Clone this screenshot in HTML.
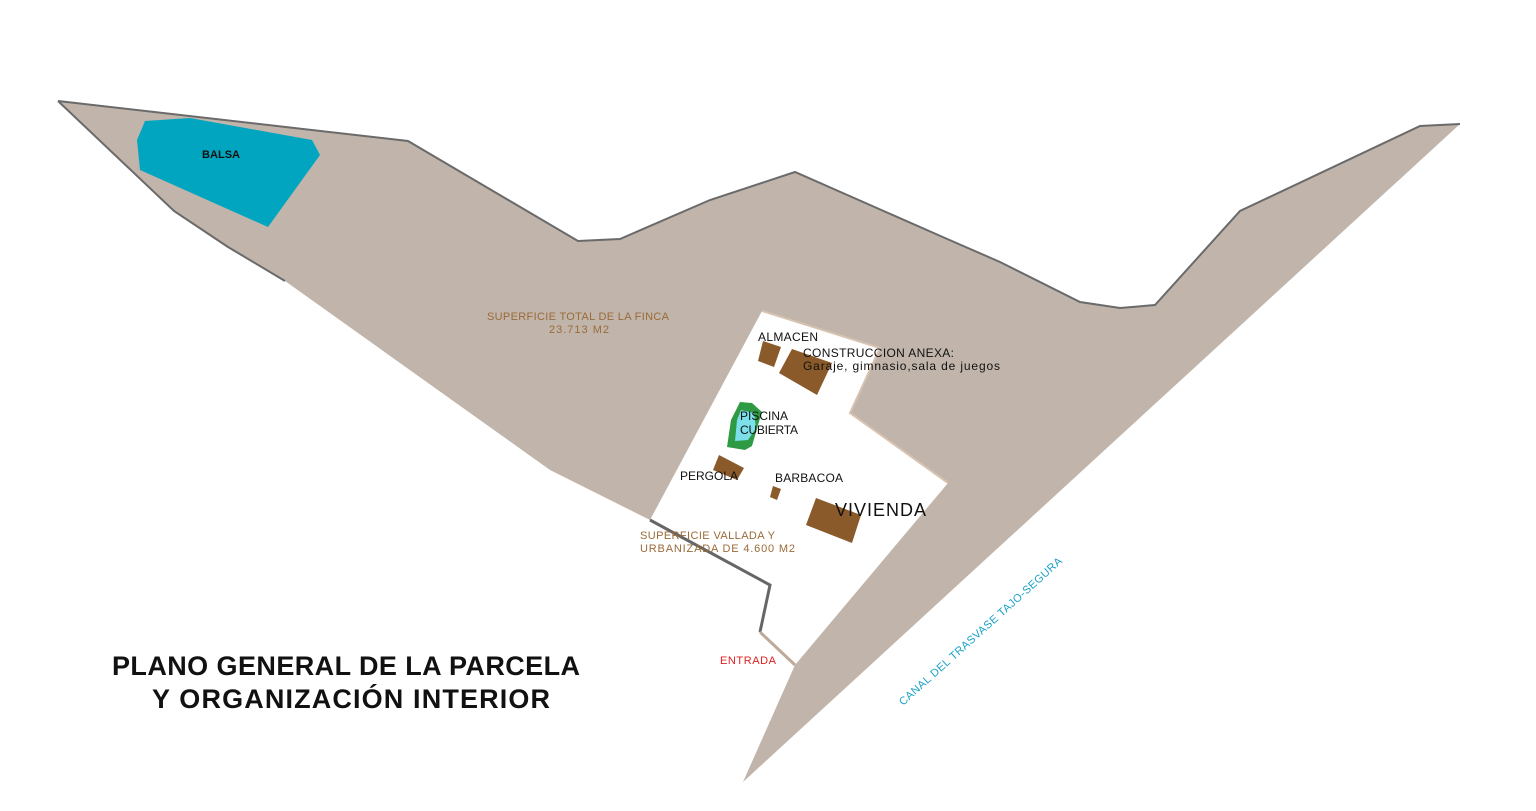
<!DOCTYPE html>
<html><head><style>
html,body{margin:0;padding:0;background:#fff;}
svg{display:block}
text{font-family:"Liberation Sans",sans-serif;}
</style></head><body>
<svg width="1536" height="811" viewBox="0 0 1536 811" xmlns="http://www.w3.org/2000/svg">
<polygon points="58,101 408,141 578,241 620,239 710,200 795,172 945,238 1000,262 1080,302 1120,308 1155,305 1240,211 1420,126 1460,124 743,782 795,665 760,632 770,585 650,520 550,470 285,281 228,247 174,211" fill="#c1b5ab"/>
<polyline points="58,101 408,141 578,241 620,239 710,200 795,172 945,238 1000,262 1080,302 1120,308 1155,305 1240,211 1420,126 1460,124" fill="none" stroke="#6a6a6a" stroke-width="2"/>
<polyline points="58,101 174,211 228,247 285,281" fill="none" stroke="#6a6a6a" stroke-width="2"/>
<polygon points="762,311 880,348 850,413 948,483 795,665 760,632 770,585 650,520" fill="#fff"/>
<polyline points="650,520 770,585 760,632" fill="none" stroke="#666" stroke-width="3"/>
<polyline points="760,632 795,665" fill="none" stroke="#bfa999" stroke-width="3"/>
<polyline points="762,311 880,348 850,413 948,483" fill="none" stroke="#d8c2b0" stroke-width="2"/>
<polygon points="145,121 190,118 312,140 320,155 268,227 140,170 137,140" fill="#02a5bf"/>
<text x="202" y="158" font-size="11" font-weight="bold" fill="#111" textLength="38">BALSA</text>
<text x="487" y="320" font-size="11" fill="#9a6a38" textLength="182">SUPERFICIE TOTAL DE LA FINCA</text>
<text x="549" y="333" font-size="11" fill="#9a6a38" textLength="60">23.713 M2</text>
<polygon points="763,341 781,347 774,367 758,361" fill="#8b5a2b"/>
<polygon points="792,349 832,363 817,395 779,373" fill="#8b5a2b"/>
<polygon points="740,402 752,403 762,412 758,425 752,446 745,450 727,447 731,420" fill="#2e9a44"/>
<polygon points="741,410 754,413 756,428 748,440 735,441 737,420" fill="#7be0ea"/>
<polygon points="719,455 744,468 737,480 713,470" fill="#8b5a2b"/>
<polygon points="773,486 781,489 777,500 770,497" fill="#8b5a2b"/>
<polygon points="816,498 861,515 852,543 806,525" fill="#8b5a2b"/>
<g font-size="12" fill="#111">
<text x="758" y="341" textLength="60">ALMACEN</text>
<text x="803" y="357" textLength="151">CONSTRUCCION ANEXA:</text>
<text x="803" y="370" textLength="197">Garaje, gimnasio,sala de juegos</text>
<text x="740" y="420" textLength="48">PISCINA</text>
<text x="740" y="434" textLength="58">CUBIERTA</text>
<text x="680" y="480" textLength="58">PERGOLA</text>
<text x="775" y="482" textLength="68">BARBACOA</text>
</g>
<text x="835" y="516" font-size="18" fill="#111" textLength="91">VIVIENDA</text>
<text x="640" y="539" font-size="11" fill="#9a6a38" textLength="135">SUPERFICIE VALLADA Y</text>
<text x="640" y="552" font-size="11" fill="#9a6a38" textLength="155">URBANIZADA DE 4.600 M2</text>
<text x="720" y="664" font-size="11" fill="#e02020" textLength="56">ENTRADA</text>
<text x="0" y="0" font-size="11" fill="#1aa0c8" textLength="215" transform="translate(903,706) rotate(-42)">CANAL DEL TRASVASE TAJO-SEGURA</text>
<text x="112" y="675" font-size="27" font-weight="bold" fill="#111" textLength="468">PLANO GENERAL DE LA PARCELA</text>
<text x="152" y="708" font-size="27" font-weight="bold" fill="#111" textLength="398">Y ORGANIZACIÓN INTERIOR</text>
</svg>
</body></html>
